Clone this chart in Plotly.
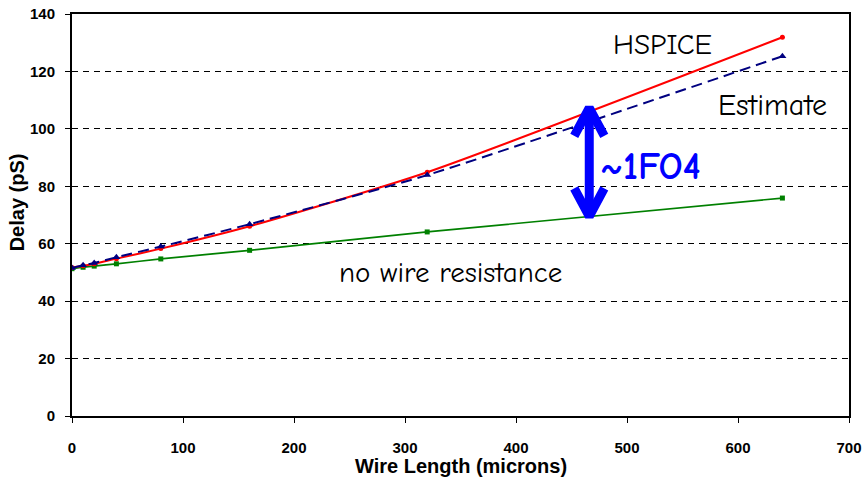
import numpy as np
import plotly.graph_objects as go

# Wire length sweep (microns)
wire_len = [0, 10, 20, 40, 80, 160, 320, 640]

# Delay values (ps)
hspice = [51.7, 52.3, 53.0, 54.8, 58.3, 66.1, 84.9, 131.9]
estimate = [51.5, 52.5, 53.3, 55.3, 59.0, 66.8, 83.9, 125.3]
no_wire_r = [51.3, 51.8, 52.2, 53.0, 54.7, 57.7, 64.1, 75.9]

x_ticks = [0, 100, 200, 300, 400, 500, 600, 700]
y_ticks = [0, 20, 40, 60, 80, 100, 120, 140]

# Plot-area geometry in pixels (used to size the arrow heads)
W, H = 862, 483
M = dict(l=72, r=13, t=14, b=67)
px_per_x = (W - M["l"] - M["r"]) / 700.0
px_per_y = (H - M["t"] - M["b"]) / 140.0

fig = go.Figure()

fig.add_trace(go.Scatter(
    x=wire_len, y=no_wire_r, mode="lines+markers",
    line=dict(color="#008000", width=1.7, shape="spline", smoothing=0.6),
    marker=dict(symbol="square", size=5, color="#008000"),
    name="no wire resistance", showlegend=False))

fig.add_trace(go.Scatter(
    x=wire_len, y=hspice, mode="lines+markers",
    line=dict(color="#ff0000", width=2, shape="spline", smoothing=0.6),
    marker=dict(symbol="circle", size=5, color="#ff0000"),
    name="HSPICE", showlegend=False))

fig.add_trace(go.Scatter(
    x=wire_len, y=estimate, mode="lines+markers",
    line=dict(color="#000080", width=2, dash="11px,6px", shape="spline", smoothing=0.6),
    marker=dict(symbol="triangle-up", size=7, color="#000080"),
    name="Estimate", showlegend=False))

# Double-headed arrow spanning the gap between HSPICE and the no-R curve
arrow_x = 466
top = float(np.interp(arrow_x, wire_len, hspice)) + 1.0
bot = float(np.interp(arrow_x, wire_len, no_wire_r))
hw = 15 / px_per_x   # chevron half-width
hh = 28 / px_per_y   # chevron height
arrow_style = dict(mode="lines", line=dict(color="#0000ff", width=9),
                   hoverinfo="skip", showlegend=False)
fig.add_trace(go.Scatter(x=[arrow_x, arrow_x], y=[top, bot], **arrow_style))
fig.add_trace(go.Scatter(x=[arrow_x - hw, arrow_x, arrow_x + hw],
                         y=[top - hh, top, top - hh], **arrow_style))
fig.add_trace(go.Scatter(x=[arrow_x - hw, arrow_x, arrow_x + hw],
                         y=[bot + hh, bot, bot + hh], **arrow_style))

label_font = "Comic Sans MS, Comic Neue, DejaVu Sans, sans-serif"
notes = [
    dict(x=486, y=129.5, text="HSPICE", size=29, color="black", bold=False),
    dict(x=580, y=108.2, text="Estimate", size=30, color="black", bold=False),
    dict(x=239, y=50.0, text="no wire resistance", size=29, color="black", bold=False),
    dict(x=474, y=86.6, text="~1FO4", size=38, color="#0000ff", bold=True),
]
for n in notes:
    fig.add_annotation(
        x=n["x"], y=n["y"], xref="x", yref="y", showarrow=False,
        text=f"<b>{n['text']}</b>" if n["bold"] else n["text"],
        xanchor="left", yanchor="middle",
        font=dict(family=label_font, size=n["size"], color=n["color"]))

axis_font = "Liberation Sans, Arial, sans-serif"
axis_common = dict(
    showline=True, linecolor="black", linewidth=2, mirror=True,
    ticks="outside", ticklen=5, tickcolor="black", tickwidth=1,
    zeroline=False, automargin=False,
    tickfont=dict(family=axis_font, size=15, color="black", weight="bold"),
)

fig.update_xaxes(
    range=[0, 700], tickvals=x_ticks, ticktext=[str(v) for v in x_ticks],
    showgrid=False, ticklabelstandoff=12,
    **axis_common)

fig.update_yaxes(
    range=[0, 140], tickvals=y_ticks, ticktext=[str(v) for v in y_ticks],
    showgrid=True, gridcolor="black", gridwidth=1, griddash="6px,5px",
    ticklabelstandoff=7,
    **axis_common)

# Axis titles placed as annotations
fig.add_annotation(
    text="<b>Wire Length (microns)</b>", xref="x", x=350, xanchor="center",
    yref="paper", y=0, yshift=-50, yanchor="middle", showarrow=False,
    font=dict(family=axis_font, size=20, color="black"))
fig.add_annotation(
    text="<b>Delay (pS)</b>", xref="paper", x=0, xshift=-55, xanchor="center",
    yref="y", y=74.4, yanchor="middle", textangle=-90, showarrow=False,
    font=dict(family=axis_font, size=20, color="black"))

fig.update_layout(
    width=W, height=H, margin=M,
    paper_bgcolor="white", plot_bgcolor="white",
    showlegend=False)

fig.write_html("out.html")
